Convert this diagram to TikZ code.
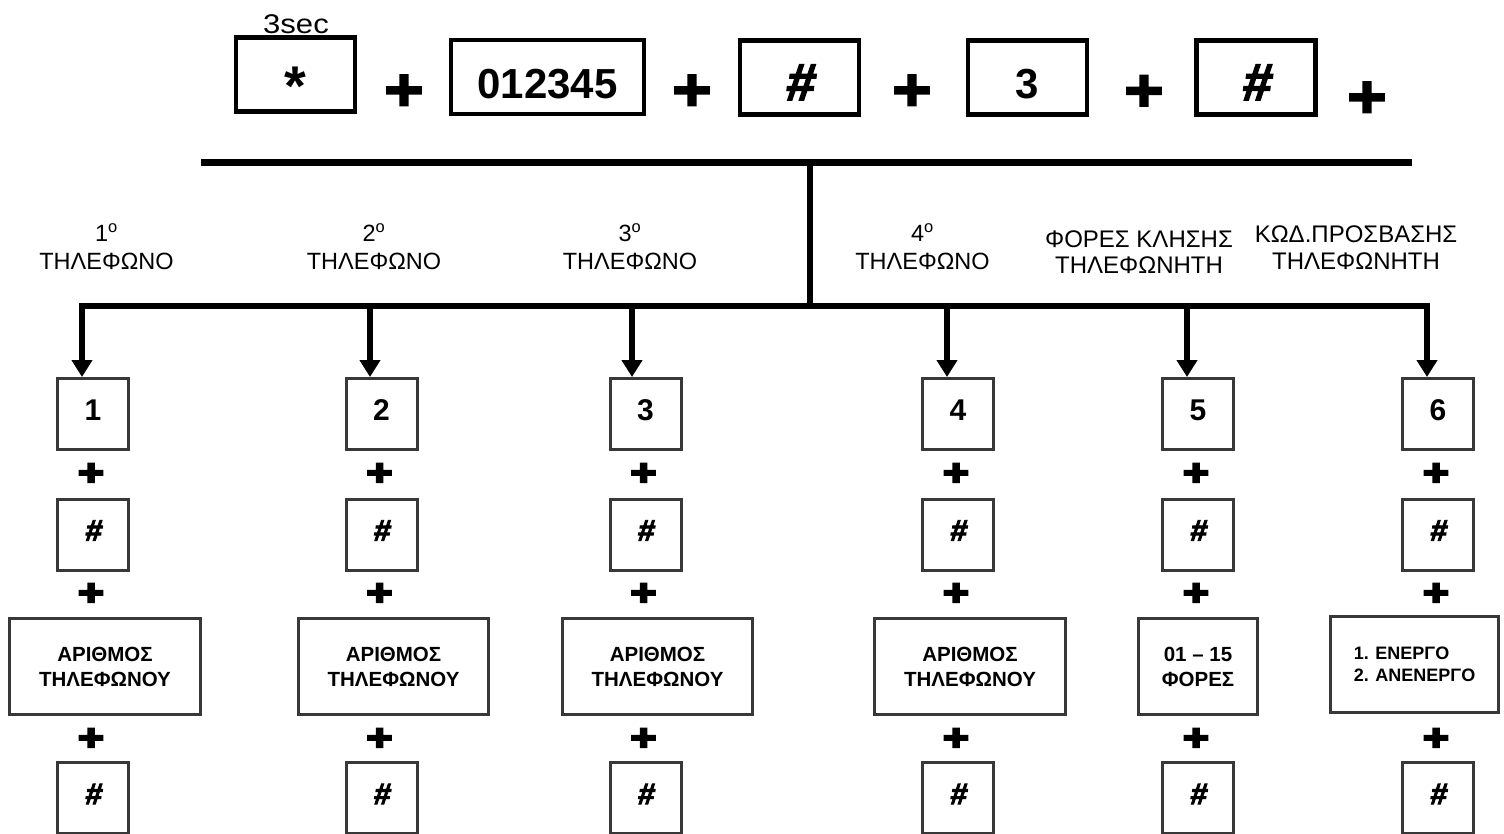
\documentclass[tikz,border=0pt]{standalone}
\usepackage{fontspec}
\setmainfont{Liberation Sans}
\newfontfamily\plusfont{Liberation Sans}[BoldFeatures={FakeBold=3}]
\newfontfamily\splusfont{Liberation Sans}[BoldFeatures={FakeBold=6}]
\newfontfamily\hashfont{Liberation Sans}[BoldFeatures={FakeBold=3, FakeSlant=0.12}]
\usetikzlibrary{arrows.meta}
\begin{document}
\begin{tikzpicture}[x=1pt,y=-1pt,
  topbox/.style={draw, line width=4.5pt, inner sep=0pt, minimum width=119pt, minimum height=74pt,
    text height=42pt, text depth=0pt, font=\fontsize{42}{42}\selectfont\bfseries},
  sbox/.style={draw=black!78, line width=3pt, inner sep=0pt, minimum width=71pt, minimum height=71pt,
    text height=12.4pt, text depth=0pt, font=\fontsize{30}{30}\selectfont\bfseries},
  hashtext/.style={font=\fontsize{30}{30}\hashfont\bfseries},
  bbox/.style={draw=black!78, line width=3pt, inner sep=0pt, minimum height=96pt, align=center,
    font=\fontsize{20.5}{25}\selectfont\bfseries},
  bigplus/.style={inner sep=0pt, text height=42.6pt, text depth=0pt, font=\fontsize{60}{60}\plusfont\bfseries},
  smallplus/.style={inner sep=0pt, text height=25.6pt, text depth=0pt, font=\fontsize{40}{40}\splusfont\bfseries},
  lbl/.style={inner sep=0pt, align=center, font=\fontsize{23.5}{28}\selectfont},
  bar/.style={line width=7pt},
  hbar/.style={line width=6.5pt},
  arr/.style={line width=6pt, -{Triangle[length=17pt,width=20pt]}}
]
\useasboundingbox (0,0) rectangle (1504,833);

% top row
\node[inner sep=0pt, font=\fontsize{27}{27}\selectfont] (sec) at (296,24) {\scalebox{1.15}[1]{3sec}};
\node[topbox, text height=62pt, font=\fontsize{56}{56}\selectfont\bfseries] (k1) at (295.5,74.5) {*};
\node[bigplus] (q1) at (404,89) {\scalebox{1.12}[1]{+}};
\node[topbox, minimum width=193pt] (k2) at (547.5,77) {012345};
\node[bigplus] (q2) at (692,89) {\scalebox{1.12}[1]{+}};
\node[topbox, font=\fontsize{52}{52}\hashfont\bfseries, text height=45pt] (k3) at (799.5,77.5) {\#};
\node[bigplus] (q3) at (912,89) {\scalebox{1.12}[1]{+}};
\node[topbox] (k4) at (1027.5,77.5) {3};
\node[bigplus] (q4) at (1144,89.5) {\scalebox{1.12}[1]{+}};
\node[topbox, font=\fontsize{52}{52}\hashfont\bfseries, text height=45pt] (k5) at (1256,77.5) {\#};
\node[bigplus] (q5) at (1367,96) {\scalebox{1.12}[1]{+}};

% bars
\coordinate (tl) at (201,162);
\coordinate (tr) at (1412,162);
\coordinate (tm) at (810,162);
\coordinate (bm) at (810,306);
\coordinate (bl) at (79,306);
\coordinate (br) at (1430,306);
\draw[bar] (tl) -- (tr);
\draw[line width=6pt] (tm) -- (bm);
\draw[hbar] (bl) -- (br);

% labels
\node[lbl] (l1) at (106.5,247) {1\textsuperscript{o}\\ΤΗΛΕΦΩΝΟ};
\node[lbl] (l2) at (374,247) {2\textsuperscript{o}\\ΤΗΛΕΦΩΝΟ};
\node[lbl] (l3) at (630,247) {3\textsuperscript{o}\\ΤΗΛΕΦΩΝΟ};
\node[lbl] (l4) at (922.5,247) {4\textsuperscript{o}\\ΤΗΛΕΦΩΝΟ};
\node[lbl, font=\fontsize{24}{26}\selectfont] (l5) at (1139,252) {ΦΟΡΕΣ ΚΛΗΣΗΣ\\ΤΗΛΕΦΩΝΗΤΗ};
\node[lbl, font=\fontsize{24}{27}\selectfont] (l6) at (1356,247.5) {ΚΩΔ.ΠΡΟΣΒΑΣΗΣ\\ΤΗΛΕΦΩΝΗΤΗ};

% columns
\foreach \i/\cx/\ax in {1/93/82, 2/381.5/370, 3/645.5/632, 4/958/947, 5/1198/1187, 6/1438/1427}{
  \node[sbox] (n\i) at (\cx,414) {\i};
  \coordinate (a\i) at (\ax,306);
  \draw[arr] (a\i) -- (a\i |- n\i.north);
  \node[smallplus] (pa\i) at (\cx-2,472) {\scalebox{1.1}[0.9]{+}};
  \node[sbox, hashtext] (h\i) at (\cx,534.5) {\#};
  \node[smallplus] (pb\i) at (\cx-2,592) {\scalebox{1.1}[0.9]{+}};
  \node[smallplus] (pc\i) at (\cx-2,737) {\scalebox{1.1}[0.9]{+}};
  \node[sbox, hashtext] (g\i) at (\cx,798) {\#};
}

% big boxes
\node[bbox, minimum width=191pt] (e1) at (105,666.5) {ΑΡΙΘΜΟΣ\\ΤΗΛΕΦΩΝΟΥ};
\node[bbox, minimum width=190pt] (e2) at (393.5,666.5) {ΑΡΙΘΜΟΣ\\ΤΗΛΕΦΩΝΟΥ};
\node[bbox, minimum width=190pt] (e3) at (657.5,666.5) {ΑΡΙΘΜΟΣ\\ΤΗΛΕΦΩΝΟΥ};
\node[bbox, minimum width=191pt] (e4) at (970,666.5) {ΑΡΙΘΜΟΣ\\ΤΗΛΕΦΩΝΟΥ};
\node[bbox, minimum width=119pt] (e5) at (1198,666.5) {01 – 15\\ΦΟΡΕΣ};
\node[bbox, minimum width=168pt, align=left, font=\fontsize{18}{22}\selectfont\bfseries] (e6) at (1414.5,664) {1. ΕΝΕΡΓΟ\\2. ΑΝΕΝΕΡΓΟ};
\end{tikzpicture}
\end{document}
